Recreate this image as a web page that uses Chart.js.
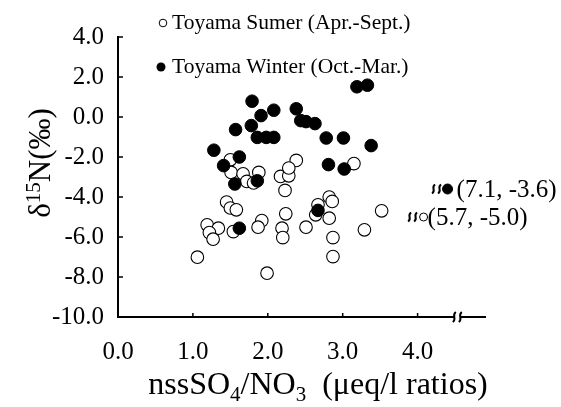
<!DOCTYPE html>
<html><head><meta charset="utf-8">
<script src="https://cdn.jsdelivr.net/npm/chart.js@4/dist/chart.umd.min.js"></script>
<style>html,body{margin:0;padding:0;background:#fff}canvas{display:block}</style>
</head><body>
<canvas id="c" width="561" height="407"></canvas>
<script>
// ---- data ----
const seriesNames = ['Toyama Sumer (Apr.-Sept.)', 'Toyama Winter (Oct.-Mar.)'];
const summerX = [1.50,1.51,1.67,1.72,1.81,1.88,1.45,1.50,1.58,1.19,1.34,1.22,1.27,1.54,1.92,1.87,1.06,1.99,2.17,2.28,2.38,2.28,2.23,3.15,2.82,2.86,2.67,2.64,2.82,2.24,2.19,2.20,2.51,2.87,2.87,3.52,3.29];
const summerY = [-2.14,-2.77,-2.84,-3.22,-3.30,-2.77,-4.25,-4.55,-4.64,-5.39,-5.56,-5.78,-6.11,-5.73,-5.18,-5.51,-7.01,-7.81,-2.97,-2.94,-2.17,-2.55,-3.67,-2.33,-4.00,-4.22,-4.39,-4.89,-5.06,-4.84,-5.56,-6.03,-5.51,-6.03,-6.98,-4.69,-5.64];
const winterX = [1.79,1.91,2.08,1.57,1.78,1.86,1.98,2.08,1.28,1.62,1.41,1.56,1.86,3.19,3.33,2.38,2.44,2.51,2.63,2.78,3.01,3.38,2.81,3.02,1.62,2.67];
const winterY = [0.79,0.07,0.34,-0.63,-0.43,-1.02,-1.02,-1.02,-1.66,-2.00,-2.43,-3.35,-3.19,1.51,1.59,0.41,-0.18,-0.23,-0.33,-1.05,-1.05,-1.43,-2.38,-2.60,-5.56,-4.67];
// off-scale points, shown past an axis break
const outlierPlotX = [4.40, 4.08];
const outlierY = [-3.6, -5.0];
const outlierLabels = ['(7.1, -3.6)', '(5.7, -5.0)'];
const outlierFilled = [true, false];
const xTicks = [0, 1, 2, 3, 4];
const yTicks = [4, 2, 0, -2, -4, -6, -8, -10];
const xTitle = ['nssSO', '4', '/NO', '3', '  (\u03bceq/l ratios)'];
const yTitle = ['\u03b4', '15', 'N(\u2030)'];

const SERIF = '"Liberation Serif", "Times New Roman", serif';
const pts = (xs, ys) => xs.map((x, i) => ({x, y: ys[i]}));

const overlay = {
  id: 'overlay',
  afterDraw(chart) {
    const ctx = chart.ctx, xs = chart.scales.x, ys = chart.scales.y, a = chart.chartArea;
    ctx.save();
    ctx.strokeStyle = '#000'; ctx.fillStyle = '#000'; ctx.lineWidth = 1.5;
    // inward tick marks
    yTicks.forEach(v => { const y = ys.getPixelForValue(v); ctx.beginPath(); ctx.moveTo(a.left, y); ctx.lineTo(a.left + 5, y); ctx.stroke(); });
    xTicks.forEach(v => { const x = xs.getPixelForValue(v); ctx.beginPath(); ctx.moveTo(x, a.bottom); ctx.lineTo(x, a.bottom - 4); ctx.stroke(); });
    // axis break on x axis
    const squig = (cx, cy, h) => {
      for (const dx of [-3, 3]) {
        ctx.beginPath();
        ctx.moveTo(cx + dx + 1.5, cy - h);
        ctx.bezierCurveTo(cx + dx - 3, cy - h / 3, cx + dx + 3, cy + h / 3, cx + dx - 1.5, cy + h);
        ctx.stroke();
      }
    };
    const bx = xs.getPixelForValue(4.53);
    ctx.fillStyle = '#fff'; ctx.fillRect(bx - 3, a.bottom - 3, 6, 6); ctx.fillStyle = '#000';
    ctx.lineWidth = 2; squig(bx, a.bottom, 5);
    // outlier annotations
    ctx.font = '25px ' + SERIF; ctx.textBaseline = 'middle'; ctx.textAlign = 'left';
    outlierPlotX.forEach((v, i) => {
      const x = xs.getPixelForValue(v), y = ys.getPixelForValue(outlierY[i]);
      squig(x - 11, y, 4.5);
      ctx.fillText(outlierLabels[i], x + (outlierFilled[i] ? 9 : 4), y + 1);
    });
    // legend
    ctx.font = '21.5px ' + SERIF;
    [[163, 23, false], [161, 67, true]].forEach(([mx, my, filled], i) => {
      ctx.beginPath(); ctx.arc(mx, my, filled ? 4.5 : 3.8, 0, Math.PI * 2);
      ctx.lineWidth = 1;
      if (filled) ctx.fill(); else ctx.stroke();
      ctx.fillText(seriesNames[i], 172, my);
    });
    // x title with subscripts
    const big = '32px ' + SERIF, small = '21px ' + SERIF;
    const parts = xTitle.map((t, i) => ({t, sub: i === 1 || i === 3}));
    let w = 0; parts.forEach(p => { ctx.font = p.sub ? small : big; p.w = ctx.measureText(p.t).width; w += p.w; });
    let x = 318 - w / 2; const base = 394;
    ctx.textBaseline = 'alphabetic';
    parts.forEach(p => { ctx.font = p.sub ? small : big; ctx.fillText(p.t, x, base + (p.sub ? 7 : 0)); x += p.w; });
    // y title with superscript
    const bigY = '31px ' + SERIF;
    ctx.translate(50, 163); ctx.rotate(-Math.PI / 2);
    const yp = yTitle.map((t, i) => ({t, sup: i === 1}));
    w = 0; yp.forEach(p => { ctx.font = p.sup ? small : bigY; p.w = ctx.measureText(p.t).width; w += p.w; });
    x = -w / 2;
    yp.forEach(p => { ctx.font = p.sup ? small : bigY; ctx.fillText(p.t, x, p.sup ? -10 : 0); x += p.w; });
    ctx.restore();
  }
};

new Chart(document.getElementById('c'), {
  type: 'scatter',
  data: {
    datasets: [
      { label: seriesNames[1], data: pts(winterX, winterY), pointRadius: 6.3, pointBackgroundColor: '#000', pointBorderColor: '#000', pointBorderWidth: 1 },
      { label: seriesNames[0], data: pts(summerX, summerY), pointRadius: 6.3, pointBackgroundColor: '#fff', pointBorderColor: '#000', pointBorderWidth: 1.1 },
      { label: 'off-scale', data: pts(outlierPlotX, outlierY), pointRadius: [5, 4], pointBackgroundColor: outlierFilled.map(f => f ? '#000' : '#fff'), pointBorderColor: '#000', pointBorderWidth: 1 }
    ]
  },
  options: {
    responsive: false, animation: false, devicePixelRatio: 1,
    layout: { padding: { left: 0, top: 37, right: 76, bottom: 0 } },
    plugins: { legend: { display: false }, tooltip: { enabled: false } },
    scales: {
      x: {
        type: 'linear', min: 0, max: 4.9,
        afterBuildTicks: s => { s.ticks = xTicks.map(v => ({value: v})); },
        afterFit: s => { s.height = 90; },
        grid: { display: false, drawTicks: false },
        border: { display: true, color: '#000', width: 2 },
        ticks: { color: '#000', font: { family: SERIF, size: 25 }, padding: 20, maxRotation: 0, callback: v => Number(v).toFixed(1) }
      },
      y: {
        min: -10, max: 4,
        afterBuildTicks: s => { s.ticks = yTicks.map(v => ({value: v})); },
        afterFit: s => { s.width = 118; },
        grid: { display: false, drawTicks: false },
        border: { display: true, color: '#000', width: 2 },
        ticks: { color: '#000', font: { family: SERIF, size: 25 }, padding: 14, callback: v => Number(v).toFixed(1) }
      }
    }
  },
  plugins: [overlay]
});
</script>
</body></html>
